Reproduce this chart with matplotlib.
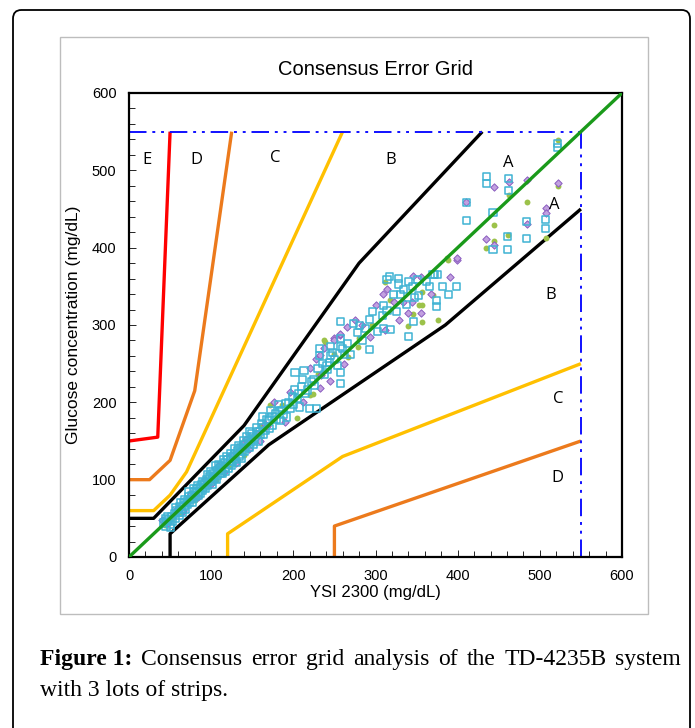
#!/usr/bin/env python3
""" Consensus error grid """
import numpy as np
import matplotlib.pyplot as plt
from matplotlib.patches import FancyBboxPatch, Rectangle

# zone boundaries (YSI, meter)
a_upper = [(0, 50), (30, 50), (140, 170), (280, 380), (430, 550)]
a_lower = [(50, 0), (50, 30), (170, 145), (385, 300), (550, 450)]
b_upper = [(0, 60), (30, 60), (50, 80), (70, 110), (260, 550)]
b_lower = [(120, 0), (120, 30), (260, 130), (550, 250)]
c_upper = [(0, 100), (25, 100), (50, 125), (80, 215), (125, 550)]
c_lower = [(250, 0), (250, 40), (550, 150)]
d_upper = [(0, 150), (35, 155), (50, 550)]

zone_labels = ['E', 'D', 'C', 'B', 'A', 'A', 'B', 'C', 'D']
zone_label_x = [22, 82, 178, 318, 461, 518, 513, 523, 521]
zone_label_y = [513, 513, 516, 513, 510, 455, 339, 204, 102]

# lot readings (YSI, meter)
lot_squares = [
    (42, 44), (45, 40), (48, 48), (50, 42), (53, 46), (47, 52), (55, 56),
    (58, 60), (60, 58), (62, 65), (64, 62), (66, 70), (68, 66), (70, 72),
    (72, 78), (74, 70), (76, 80), (78, 76), (80, 84), (82, 88), (84, 80),
    (86, 90), (88, 94), (90, 86), (92, 96), (94, 100), (96, 92), (98, 104),
    (100, 98), (102, 108), (104, 102), (106, 112), (108, 106), (110, 114),
    (112, 118), (114, 108), (116, 122), (118, 116), (120, 126), (122, 120),
    (124, 128), (126, 124), (128, 134), (130, 126), (132, 138), (134, 130),
    (136, 142), (138, 136), (140, 146), (142, 140), (145, 150), (148, 148),
    (150, 156), (153, 152), (156, 162), (160, 158), (163, 168), (166, 164),
    (44, 50), (46, 46), (50, 38), (52, 52), (56, 50), (57, 64), (61, 54),
    (63, 70), (65, 58), (67, 74), (69, 62), (71, 68), (73, 84), (75, 74),
    (77, 70), (79, 88), (81, 78), (83, 92), (85, 84), (87, 82), (89, 98),
    (91, 90), (93, 88), (95, 106), (97, 98), (99, 110), (101, 94),
    (103, 104), (105, 118), (107, 100), (109, 120), (111, 108), (113, 112),
    (115, 126), (117, 110), (119, 130), (121, 114), (123, 134), (125, 118),
    (127, 130), (129, 140), (131, 122), (133, 144), (135, 132), (137, 128),
    (139, 150), (141, 136), (143, 156), (146, 142), (149, 160), (152, 146),
    (155, 168), (158, 150), (161, 172), (164, 158), (168, 178), (171, 166),
    (174, 182), (180, 178), (183, 190), (188, 184), (191, 198), (197, 192),
    (147, 162), (159, 162), (163, 181), (172, 190), (182, 197), (184, 177),
    (192, 181), (200, 197), (201, 216), (208, 194), (211, 229), (220, 192),
    (222, 227), (228, 192), (202, 238), (213, 241), (232, 270), (232, 261),
    (241, 248), (241, 242), (257, 238), (257, 224), (170, 176), (175, 170),
    (178, 186), (186, 190), (194, 200), (205, 205), (215, 212), (225, 230),
    (236, 250), (250, 255), (262, 262), (245, 272), (245, 261),
    (257, 272), (293, 268), (257, 283), (257, 304), (273, 302), (280, 299),
    (293, 307), (310, 296), (318, 294), (340, 285), (310, 325), (314, 319),
    (330, 340), (352, 338), (374, 332), (374, 324), (317, 363), (328, 360),
    (328, 353), (314, 359), (340, 356), (351, 359), (372, 365), (370, 365),
    (376, 365), (399, 350), (389, 339), (346, 304), (199, 208), (206, 212),
    (210, 220), (217, 216), (226, 222), (230, 244), (238, 236), (244, 252),
    (248, 264), (254, 248), (260, 270), (266, 276), (270, 262), (278, 290),
    (284, 280), (288, 296), (296, 318), (302, 292), (308, 312), (322, 340),
    (326, 318), (334, 346), (338, 326), (345, 350), (348, 336), (362, 356),
    (366, 350), (382, 350),
    (435, 492), (435, 483), (462, 490), (462, 474), (522, 535), (522, 529),
    (411, 458), (411, 435), (443, 445), (484, 434), (507, 436), (507, 425),
    (461, 414), (484, 412), (461, 398), (443, 398),
]
lot_diamonds = [
    (40, 48), (48, 44), (58, 62), (66, 60), (75, 82), (84, 78), (92, 100),
    (100, 94), (108, 118), (116, 110), (124, 132), (130, 122), (138, 146),
    (146, 140), (154, 160), (160, 150), (166, 172), (143, 153), (168, 169),
    (176, 201), (190, 175), (220, 245), (232, 219), (234, 235), (245, 227),
    (249, 283), (257, 287), (233, 261), (237, 270), (249, 280), (257, 289),
    (265, 297), (275, 307), (293, 285), (312, 294), (328, 306), (340, 315),
    (355, 315), (322, 330), (334, 330), (309, 340), (314, 347), (346, 363),
    (355, 362), (344, 330), (391, 362), (399, 384), (399, 387), (444, 479),
    (462, 485), (484, 487), (522, 484), (410, 459), (507, 451), (507, 445),
    (484, 431), (435, 411), (444, 403), (196, 214), (212, 200), (228, 256),
    (262, 250), (284, 300), (300, 326), (368, 340),
]
lot_circles = [
    (44, 42), (52, 50), (62, 58), (72, 76), (80, 74), (90, 92), (98, 104),
    (106, 100), (114, 120), (122, 118), (132, 136), (140, 132), (148, 154),
    (158, 156), (151, 156), (161, 169), (172, 197), (204, 180), (220, 209),
    (224, 211), (239, 278), (249, 263), (279, 272), (237, 281), (280, 283),
    (340, 299), (357, 304), (346, 314), (318, 332), (353, 326), (357, 343),
    (312, 356), (370, 339), (376, 306), (356, 326), (388, 384), (387, 387),
    (462, 468), (484, 459), (522, 539), (522, 480), (444, 429), (435, 400),
    (444, 408), (461, 416), (507, 413), (186, 196), (230, 236), (266, 258),
    (296, 300),
]

caption_bold = 'Figure 1:'
caption_line1 = 'Consensus error grid analysis of the TD-4235B system'
caption_line2 = 'with 3 lots of strips.'

fig = plt.figure(figsize=(6.95, 7.28), dpi=100)
W, H = 695.0, 728.0

# outer frame and chart frame
fig.patches.append(FancyBboxPatch((13 / W, -0.05), 677 / W, 0.05 + 718 / H,
                                  boxstyle='round,pad=0,rounding_size=0.012',
                                  transform=fig.transFigure, fill=False,
                                  edgecolor='black', linewidth=1.3))
fig.patches.append(Rectangle((60 / W, 1 - 614 / H), 588 / W, 577 / H,
                             transform=fig.transFigure, fill=False,
                             edgecolor='#bdbdbd', linewidth=1.0))

ax = fig.add_axes([129 / W, 1 - 557 / H, 493 / W, 464 / H])

zones = [(a_upper, 'black'), (a_lower, 'black'),
         (b_upper, '#ffc000'), (b_lower, '#ffc000'),
         (c_upper, '#ec7a1c'), (c_lower, '#ec7a1c'),
         (d_upper, '#ff0000')]
for pts, col in zones:
    xs, ys = zip(*pts)
    ax.plot(xs, ys, color=col, linewidth=2.4, solid_capstyle='butt', zorder=2)

ax.plot([0, 550], [550, 550], color='#1010ff', linewidth=1.4,
        dashes=(9, 3, 1.5, 3, 1.5, 3), zorder=2)
ax.plot([550, 550], [0, 550], color='#1010ff', linewidth=1.4,
        dashes=(9, 3, 1.5, 3, 1.5, 3), zorder=2)

sx, sy = np.array(lot_squares).T
dx, dy = np.array(lot_diamonds).T
cx, cy = np.array(lot_circles).T
ax.scatter(cx, cy, marker='o', s=18, color='#9cc24a', linewidths=0, zorder=3)
ax.scatter(dx, dy, marker='D', s=14, facecolor='#c2a0e0',
           edgecolor='#8a5cbf', linewidths=0.7, zorder=4)
ax.scatter(sx, sy, marker='s', s=26, facecolor='none',
           edgecolor='#3fb3d3', linewidths=1.1, zorder=5)

ax.plot([0, 600], [0, 600], color='#1a9a1a', linewidth=2.4, zorder=6)

for lab, lx, ly in zip(zone_labels, zone_label_x, zone_label_y):
    ax.text(lx, ly, lab, fontsize=12, ha='center', va='center',
            family='Open Sans', zorder=7)

ax.set_xlim(0, 600)
ax.set_ylim(0, 600)
ax.set_xticks(np.arange(0, 700, 100))
ax.set_yticks(np.arange(0, 700, 100))
ax.set_xticks(np.arange(0, 620, 20), minor=True)
ax.set_yticks(np.arange(0, 620, 20), minor=True)
ax.tick_params(which='both', direction='in', top=False, right=False,
               labelsize=10.5, pad=9)
ax.tick_params(which='major', length=5, width=0.6)
ax.tick_params(which='minor', length=4, width=0.6)
for lbl in ax.get_xticklabels() + ax.get_yticklabels():
    lbl.set_family('Liberation Sans')
for sp in ax.spines.values():
    sp.set_linewidth(1.6)

ax.set_title('Consensus Error Grid', fontsize=14.5, family='Liberation Sans',
             pad=13)
ax.set_xlabel('YSI 2300 (mg/dL)', fontsize=12, family='Liberation Sans',
              labelpad=1)
ax.set_ylabel('Glucose concentration (mg/dL)', fontsize=12.5,
              family='Liberation Sans', labelpad=8)

# caption, first line justified between the frame margins
cap_fs = 17
left_px, right_px = 40, 681
y1 = 1 - 665 / H
renderer = fig.canvas.get_renderer()
words = [(caption_bold, 'bold')] + [(w, 'normal') for w in caption_line1.split()]
arts = []
for w, wt in words:
    t = fig.text(0, y1, w, fontsize=cap_fs, family='Liberation Serif',
                 weight=wt, va='baseline')
    arts.append(t)
widths = [t.get_window_extent(renderer).width for t in arts]
gap = (right_px - left_px - sum(widths)) / (len(arts) - 1)
xpos = left_px
for t, wd in zip(arts, widths):
    t.set_x(xpos / W)
    xpos += wd + gap
fig.text(left_px / W, 1 - 696 / H, caption_line2, fontsize=cap_fs,
         family='Liberation Serif', va='baseline')

plt.savefig('out.png', dpi=100)
